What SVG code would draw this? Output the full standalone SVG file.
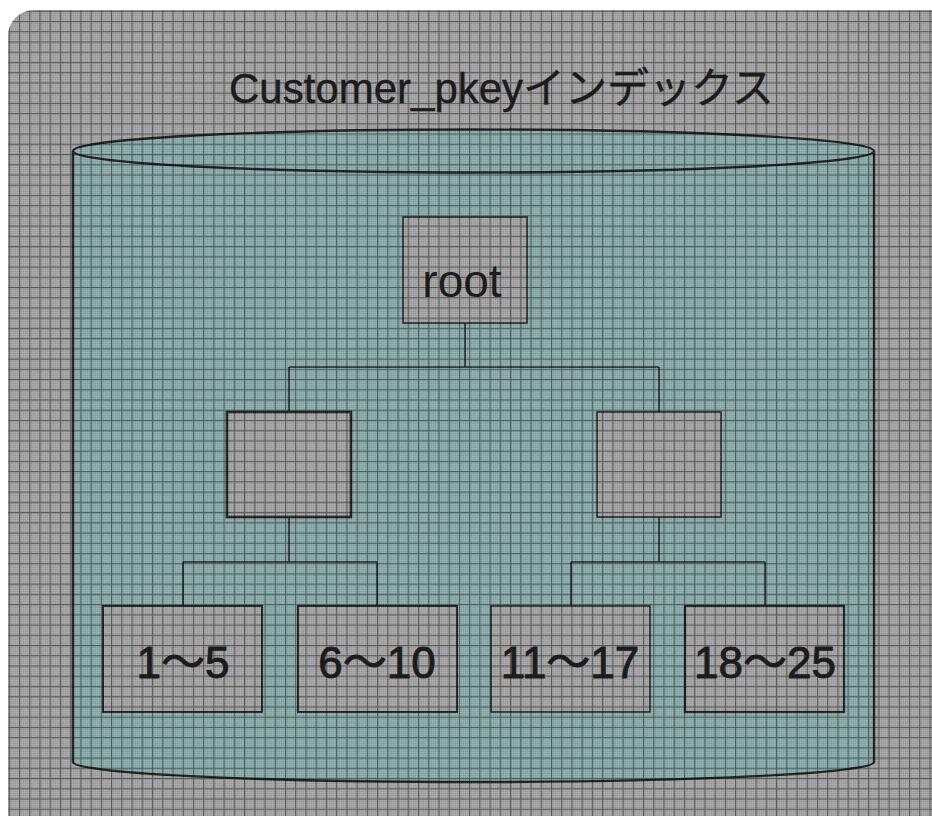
<svg xmlns="http://www.w3.org/2000/svg" width="932" height="816" viewBox="0 0 932 816">
  <defs>
    <style>
      .txt { font-family: "Liberation Sans", "Noto Sans CJK JP", sans-serif; fill: #1c1c1c; }
      .leaf { stroke: #1c1c1c; stroke-width: 0.9; }
      .box { fill: #a3a3a3; stroke: #222; stroke-width: 2; }
      .conn { fill: none; stroke: #222; stroke-width: 1.6; }
      .cyl { fill: #89abaa; stroke: #1e1e1e; stroke-width: 2.4; }
    </style>
    <clipPath id="bgclip">
      <rect x="8" y="10" width="960" height="850" rx="26" ry="26"/>
    </clipPath>
    <pattern id="grid" patternUnits="userSpaceOnUse" x="19" y="21" width="10.23" height="10.23">
      <rect x="0" y="0" width="10.23" height="1.1" fill="#000" fill-opacity="0.45"/>
      <rect x="0" y="1.1" width="1.1" height="9.13" fill="#000" fill-opacity="0.45"/>
    </pattern>
    <pattern id="dither" patternUnits="userSpaceOnUse" x="0" y="0" width="2" height="2">
      <rect x="0" y="0" width="1" height="1" fill="#fff" fill-opacity="0.12"/>
      <rect x="1" y="1" width="1" height="1" fill="#000" fill-opacity="0.08"/>
    </pattern>
  </defs>

  <rect x="0" y="0" width="932" height="816" fill="#ffffff"/>

  <g id="background" clip-path="url(#bgclip)">
    <rect x="8" y="10" width="960" height="850" fill="#a3a3a3"/>
  </g>

  <g id="cylinder">
    <path class="cyl" d="M73,151 L73,762 A400.5,20 0 0 0 874,762 L874,151"/>
    <ellipse class="cyl" cx="473.5" cy="151" rx="400.5" ry="21.5"/>
  </g>

  <g id="connectors">
    <path class="conn" d="M465,323 V367 M289,367 H659 M289,367 V412 M659,367 V412"/>
    <path class="conn" d="M289,517 V562 M183,562 H377 M183,562 V606 M377,562 V606"/>
    <path class="conn" d="M659,517 V562 M571,562 H765 M571,562 V606 M765,562 V606"/>
  </g>

  <g id="node-root">
    <rect class="box" x="403" y="217" width="124" height="106" style="stroke-width:1.6"/>
  </g>
  <g id="node-mid-left">
    <rect class="box" x="227" y="412" width="124" height="105" style="stroke-width:2.6"/>
  </g>
  <g id="node-mid-right">
    <rect class="box" x="597" y="412" width="124" height="105" style="stroke-width:1.6"/>
  </g>
  <g id="node-leaf-1">
    <rect class="box" x="103" y="606" width="159" height="106"/>
  </g>
  <g id="node-leaf-2">
    <rect class="box" x="298" y="606" width="159" height="106"/>
  </g>
  <g id="node-leaf-3">
    <rect class="box" x="491" y="606" width="159" height="106" style="stroke-width:1.6"/>
  </g>
  <g id="node-leaf-4">
    <rect class="box" x="685" y="606" width="159" height="106" style="stroke-width:2.2"/>
  </g>

  <g id="overlay" clip-path="url(#bgclip)" pointer-events="none">
    <rect x="0" y="0" width="932" height="816" fill="url(#dither)"/>
    <rect x="0" y="0" width="932" height="816" fill="url(#grid)"/>
  </g>

  <g id="labels">
    <text class="txt" x="229" y="103" font-size="42" stroke="#1c1c1c" stroke-width="0.4">Customer_pkeyインデックス</text>
    <text class="txt" x="462" y="297" font-size="46" text-anchor="middle">root</text>
    <text class="txt leaf" x="183" y="678" font-size="44" text-anchor="middle">1〜5</text>
    <text class="txt leaf" x="377" y="678" font-size="44" text-anchor="middle">6〜10</text>
    <text class="txt leaf" x="570" y="678" font-size="44" text-anchor="middle">11〜17</text>
    <text class="txt leaf" x="765" y="678" font-size="44" text-anchor="middle">18〜25</text>
  </g>
</svg>
